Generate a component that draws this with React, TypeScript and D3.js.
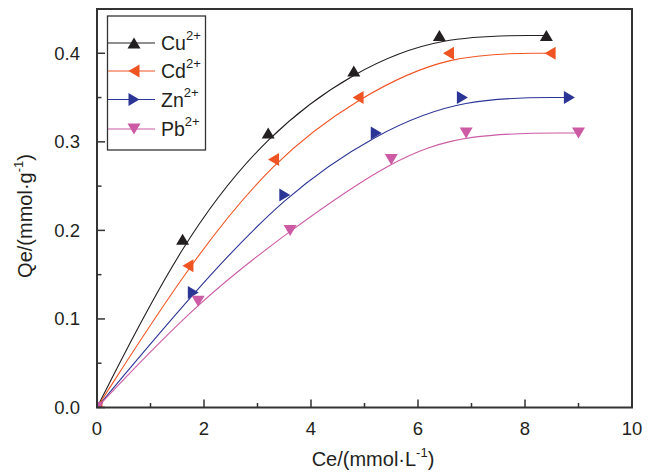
import React from "react";
import * as d3 from "d3";

const seriesNames = ["Cu", "Cd", "Zn", "Pb"];
const seriesColors = ["#231f20", "#f05423", "#2b3595", "#cc5aa4"];
const markerTypes = ["up", "left", "right", "down"];

const ceCu = [0, 1.6, 3.2, 4.8, 6.4, 8.4];
const qeCu = [0, 0.19, 0.31, 0.38, 0.42, 0.42];
const ceCd = [0, 1.7, 3.3, 4.88, 6.57, 8.47];
const qeCd = [0, 0.16, 0.28, 0.35, 0.40, 0.40];
const ceZn = [0, 1.8, 3.51, 5.22, 6.83, 8.83];
const qeZn = [0, 0.13, 0.24, 0.31, 0.35, 0.35];
const cePb = [0, 1.89, 3.61, 5.5, 6.9, 9.0];
const qePb = [0, 0.12, 0.20, 0.28, 0.31, 0.31];

const xTicks = [0, 2, 4, 6, 8, 10];
const xMinorTicks = [1, 3, 5, 7, 9];
const yTicks = [0, 0.1, 0.2, 0.3, 0.4];
const yMinorTicks = [0.05, 0.15, 0.25, 0.35];

const W = 651;
const H = 473;
const left = 97;
const right = 632;
const top = 9;
const bottom = 407.5;

const FONT = "'Liberation Sans', Arial, Helvetica, sans-serif";

function markerPath(type: string, s = 6.5, h = 5.5) {
  switch (type) {
    case "up":
      return `M0,${-h}L${s},${h}L${-s},${h}Z`;
    case "down":
      return `M0,${h}L${s},${-h}L${-s},${-h}Z`;
    case "left":
      return `M${-h},0L${h},${-s}L${h},${s}Z`;
    default:
      return `M${h},0L${-h},${-s}L${-h},${s}Z`;
  }
}

export default function App() {
  const x = d3.scaleLinear().domain([0, 10]).range([left, right]);
  const y = d3.scaleLinear().domain([0, 0.45]).range([bottom, top]);

  const allCe = [ceCu, ceCd, ceZn, cePb];
  const allQe = [qeCu, qeCd, qeZn, qePb];

  const line = d3
    .line<[number, number]>()
    .x((d) => x(d[0]))
    .y((d) => y(d[1]))
    .curve(d3.curveBasis);

  const series = seriesNames.map((name, i) => ({
    name,
    color: seriesColors[i],
    marker: markerTypes[i],
    pts: allCe[i].map((c, j) => [c, allQe[i][j]] as [number, number]),
  }));

  const legendRows = [43, 71, 99.5, 129];

  return (
    <svg
      width={W}
      height={H}
      style={{ position: "absolute", left: 0, top: 0, background: "#fff" }}
      fontFamily={FONT}
    >
      <defs>
        <clipPath id="plotClip">
          <rect x={left} y={top} width={right - left} height={bottom - top} />
        </clipPath>
      </defs>
      <rect x={0} y={0} width={W} height={H} fill="#fff" />
      <g clipPath="url(#plotClip)">
        {series.map((s) => (
          <path key={s.name + "l"} d={line(s.pts) || ""} fill="none" stroke={s.color} strokeWidth={1.1} />
        ))}
        {series.map((s) =>
          s.pts.map((p, j) => (
            <path
              key={s.name + "m" + j}
              d={markerPath(s.marker)}
              transform={`translate(${x(p[0])},${y(p[1])})`}
              fill={s.color}
            />
          ))
        )}
      </g>
      <rect
        x={left}
        y={top}
        width={right - left}
        height={bottom - top}
        fill="none"
        stroke="#333"
        strokeWidth={2}
      />
      {xTicks.map((t) => (
        <g key={"xt" + t}>
          <line x1={x(t)} x2={x(t)} y1={bottom} y2={bottom - 8} stroke="#333" strokeWidth={1.5} />
          <text x={x(t)} y={435} textAnchor="middle" fontSize={18.5} fill="#231f20">
            {t}
          </text>
        </g>
      ))}
      {xMinorTicks.map((t) => (
        <line key={"xm" + t} x1={x(t)} x2={x(t)} y1={bottom} y2={bottom - 4.5} stroke="#333" strokeWidth={1.5} />
      ))}
      {yTicks.map((t) => (
        <g key={"yt" + t}>
          <line x1={left} x2={left + 8} y1={y(t)} y2={y(t)} stroke="#333" strokeWidth={1.5} />
          <text x={80} y={y(t) + 6.5} textAnchor="end" fontSize={18.5} fill="#231f20">
            {t.toFixed(1)}
          </text>
        </g>
      ))}
      {yMinorTicks.map((t) => (
        <line key={"ym" + t} x1={left} x2={left + 4.5} y1={y(t)} y2={y(t)} stroke="#333" strokeWidth={1.5} />
      ))}
      <text x={373} y={466} textAnchor="middle" fontSize={20} fill="#231f20">
        Ce/(mmol·L
        <tspan fontSize={13} dy={-9}>-1</tspan>
        <tspan dy={9}>)</tspan>
      </text>
      <text
        transform="translate(32,216) rotate(-90)"
        textAnchor="middle"
        fontSize={20}
        fill="#231f20"
      >
        Qe/(mmol·g
        <tspan fontSize={13} dy={-9}>-1</tspan>
        <tspan dy={9}>)</tspan>
      </text>
      <rect x={107.5} y={16} width={98} height={134} fill="#fff" stroke="#333" strokeWidth={1.3} />
      {series.map((s, i) => (
        <g key={s.name + "leg"}>
          <line x1={108} x2={155} y1={legendRows[i]} y2={legendRows[i]} stroke={s.color} strokeWidth={1.1} />
          <path d={markerPath(s.marker)} transform={`translate(134,${legendRows[i]})`} fill={s.color} />
          <text x={161} y={legendRows[i] + 7} fontSize={19.5} fill="#231f20">
            {s.name}
            <tspan fontSize={13} dy={-10}>2+</tspan>
          </text>
        </g>
      ))}
    </svg>
  );
}
